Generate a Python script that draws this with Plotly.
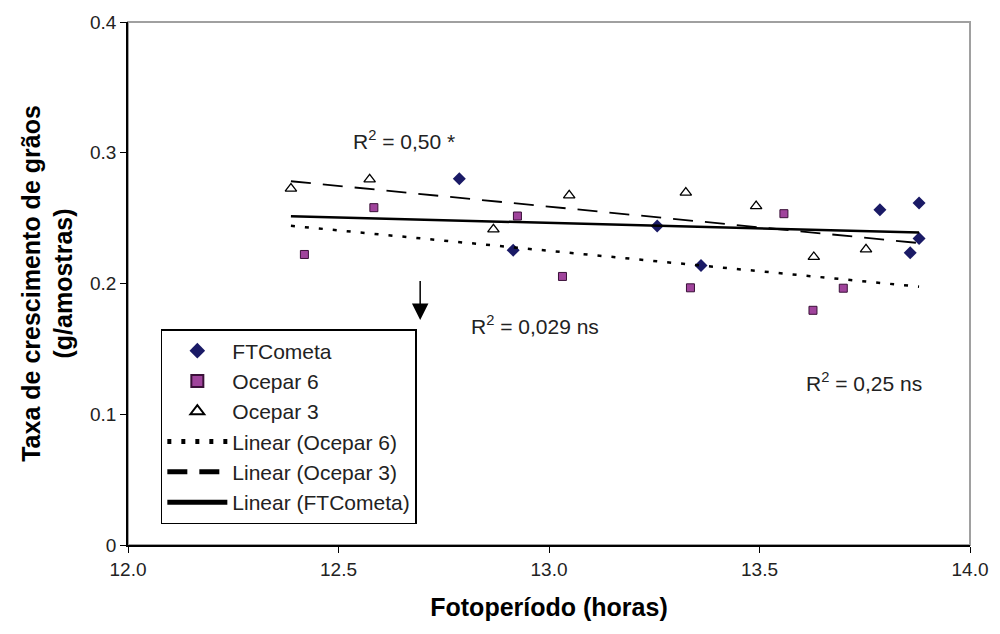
import numpy as np
import plotly.graph_objects as go

# Data
ftc_x = [12.787, 12.915, 13.257, 13.361, 13.786, 13.879, 13.879, 13.858]
ftc_y = [0.2802, 0.2255, 0.2439, 0.2138, 0.2565, 0.2615, 0.2345, 0.2235]

oc6_x = [12.419, 12.584, 12.925, 13.032, 13.336, 13.558, 13.627, 13.699]
oc6_y = [0.2222, 0.2580, 0.2516, 0.2054, 0.1967, 0.2534, 0.1795, 0.1964]

oc3_x = [12.387, 12.574, 12.868, 13.048, 13.325, 13.492, 13.629, 13.753]
oc3_y = [0.2726, 0.2797, 0.2414, 0.2674, 0.2695, 0.2592, 0.2203, 0.2261]

x_ticks = [12.0, 12.5, 13.0, 13.5, 14.0]
x_labels = ["12.0", "12.5", "13.0", "13.5", "14.0"]
y_ticks = [0, 0.1, 0.2, 0.3, 0.4]
y_labels = ["0", "0.1", "0.2", "0.3", "0.4"]

r2_labels = ["R<sup>2</sup> = 0,50 *", "R<sup>2</sup> = 0,029 ns", "R<sup>2</sup> = 0,25 ns"]
r2_x = [12.53, 12.81, 13.605]
r2_y = [0.310, 0.168, 0.125]

arrow_x = 12.694
arrow_tail_y = 0.203
arrow_head_y = 0.172

FONT = "Liberation Sans, Arial, sans-serif"

all_x = ftc_x + oc6_x + oc3_x
lx = np.array([min(all_x), max(all_x)])


def fit(xs, ys):
    m, b = np.polyfit(xs, ys, 1)
    return m * lx + b


fig = go.Figure()
fig.add_trace(go.Scatter(x=ftc_x, y=ftc_y, mode="markers", name="FTCometa",
                         marker=dict(symbol="diamond", size=10, color="#1a1a66",
                                     line=dict(color="#1a1a66", width=0))))
fig.add_trace(go.Scatter(x=oc6_x, y=oc6_y, mode="markers", name="Ocepar 6",
                         marker=dict(symbol="square", size=8, color="#a0449c",
                                     line=dict(color="#3a1038", width=1))))
fig.add_trace(go.Scatter(x=oc3_x, y=oc3_y, mode="markers", name="Ocepar 3",
                         marker=dict(symbol="triangle-up", size=10, color="white",
                                     line=dict(color="black", width=1.3))))
fig.add_trace(go.Scatter(x=lx, y=fit(oc6_x, oc6_y), mode="lines", name="Linear (Ocepar 6)",
                         line=dict(color="black", width=2.5, dash="4px,10px")))
fig.add_trace(go.Scatter(x=lx, y=fit(oc3_x, oc3_y), mode="lines", name="Linear (Ocepar 3)",
                         line=dict(color="black", width=1.8, dash="20px,12px")))
fig.add_trace(go.Scatter(x=lx, y=fit(ftc_x, ftc_y), mode="lines", name="Linear (FTCometa)",
                         line=dict(color="black", width=2.5)))

for t, ax_, ay_ in zip(r2_labels, r2_x, r2_y):
    fig.add_annotation(x=ax_, y=ay_, text=t, showarrow=False, xanchor="left",
                       yanchor="middle", font=dict(family=FONT, size=21, color="#222"))

fig.add_annotation(x=arrow_x, y=arrow_head_y, ax=arrow_x, ay=arrow_tail_y,
                   axref="x", ayref="y", text="", showarrow=True,
                   arrowhead=2, arrowsize=2.2, arrowwidth=1.5, arrowcolor="black")

fig.add_shape(type="rect", xref="paper", yref="paper", x0=0, x1=1, y0=0, y1=1,
              line=dict(color="#a0a0a0", width=2), layer="below")

fig.update_layout(
    width=1000, height=634,
    margin=dict(l=128, r=20, t=22, b=89),
    paper_bgcolor="white", plot_bgcolor="white",
    font=dict(family=FONT, size=16, color="#222"),
    showlegend=True,
    legend=dict(x=0.039, y=0.413, xanchor="left", yanchor="top",
                bgcolor="white", bordercolor="black", borderwidth=1.5,
                font=dict(family=FONT, size=21, color="#222"),
                itemwidth=60,
                tracegroupgap=0, itemsizing="constant"),
    xaxis=dict(range=[12, 14], tickvals=x_ticks, ticktext=x_labels,
               showgrid=False, zeroline=False, showline=True, linecolor="black",
               linewidth=1.5, ticks="outside", ticklen=6, tickcolor="black",
               tickfont=dict(family=FONT, size=19, color="#222"),
               title=dict(text="<b>Fotoperíodo (horas)</b>", standoff=20,
                          font=dict(family=FONT, size=25, color="black"))),
    yaxis=dict(range=[0, 0.4], tickvals=y_ticks, ticktext=y_labels,
               showgrid=False, zeroline=False, showline=True, linecolor="black",
               linewidth=1.5, ticks="outside", ticklen=6, tickcolor="black",
               tickfont=dict(family=FONT, size=19, color="#222"),
               title=dict(text="<b>Taxa de crescimento de grãos<br>(g/amostras)</b>",
                          standoff=10,
                          font=dict(family=FONT, size=25, color="black"))),
)

fig.write_html("out.html")
